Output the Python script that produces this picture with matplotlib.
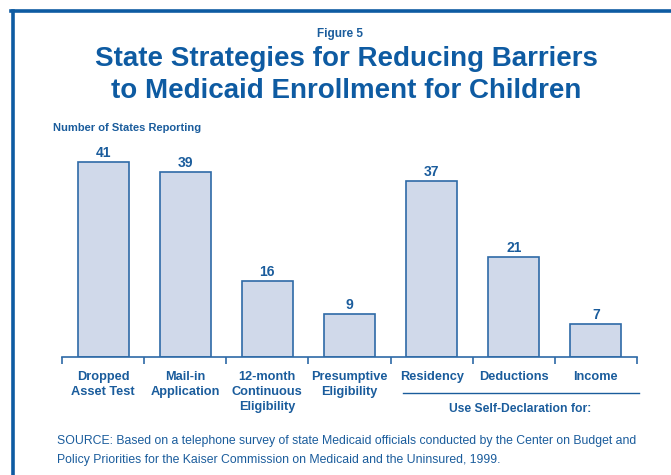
import matplotlib.pyplot as plt
from matplotlib.lines import Line2D

categories = ["Dropped\nAsset Test", "Mail-in\nApplication", "12-month\nContinuous\nEligibility",
              "Presumptive\nEligibility", "Residency", "Deductions", "Income"]
values = [41, 39, 16, 9, 37, 21, 7]

blue = "#0E5BA2"
text_blue = "#1A5C9C"
bar_face = "#D0D9EA"
bar_edge = "#2E6AA7"

plt.rcParams['font.family'] = ['Liberation Sans', 'DejaVu Sans']

W, H = 671, 475
fig = plt.figure(figsize=(W / 100, H / 100), dpi=100)

def fy(py):
    return 1 - py / H

# frame lines (top and left only visible)
fig.add_artist(Line2D([12.5 / W, 12.5 / W], [0, fy(10.5)], transform=fig.transFigure, color=blue, lw=2.6))
fig.add_artist(Line2D([11.2 / W, 1], [fy(10.5), fy(10.5)], transform=fig.transFigure, color=blue, lw=2.6))

# axes: baseline at y=357 px, x 62..637 px
base = 357
ymax = 46
px_per = 4.75
top = base - ymax * px_per
ax = fig.add_axes([62 / W, fy(base), 575 / W, (base - top) / H])
x = list(range(len(values)))
ax.bar(x, values, width=0.62, color=bar_face, edgecolor=bar_edge, linewidth=1.2)
ax.set_xlim(-0.5, len(values) - 0.5)
ax.set_ylim(0, ymax)
for s in ["top", "right", "left"]:
    ax.spines[s].set_visible(False)
ax.spines["bottom"].set_color(bar_edge)
ax.spines["bottom"].set_linewidth(1.2)
ax.set_yticks([])
ax.set_xticks([i - 0.5 for i in range(len(values) + 1)])
ax.set_xticklabels([])
ax.tick_params(axis="x", direction="out", length=5, color=bar_edge, width=1.2)

for i, v in enumerate(values):
    ax.annotate(str(v), (i, v), xytext=(0, 1.5), textcoords="offset points", ha="center", va="bottom",
                fontsize=10, fontweight="bold", color=text_blue)
for i, c in enumerate(categories):
    ax.annotate(c, (i, 0), xytext=(0, -10), textcoords="offset points", ha="center", va="top",
                fontsize=9.2, fontweight="bold", color=text_blue, linespacing=1.33)

fig.text(340 / W, fy(34), "Figure 5", ha="center", va="center", fontsize=8.5, fontweight="bold", color=text_blue)
fig.text(346 / W, fy(59), "State Strategies for Reducing Barriers", ha="center", va="center",
         fontsize=20, fontweight="bold", color=blue)
fig.text(346 / W, fy(91), "to Medicaid Enrollment for Children", ha="center", va="center",
         fontsize=20, fontweight="bold", color=blue)
fig.text(53 / W, fy(128), "Number of States Reporting", ha="left", va="center", fontsize=8,
         fontweight="bold", color=text_blue)

fig.add_artist(Line2D([403 / W, 639 / W], [fy(393), fy(393)], transform=fig.transFigure, color=text_blue, lw=1))
fig.text(520 / W, fy(409), "Use Self-Declaration for:", ha="center", va="center", fontsize=8.7,
         fontweight="bold", color=text_blue)

fig.text(57 / W, fy(441), "SOURCE: Based on a telephone survey of state Medicaid officials conducted by the Center on Budget and",
         ha="left", va="center", fontsize=8.8, color=text_blue)
fig.text(57 / W, fy(460), "Policy Priorities for the Kaiser Commission on Medicaid and the Uninsured, 1999.",
         ha="left", va="center", fontsize=8.8, color=text_blue)

fig.savefig("out.png", dpi=100)
